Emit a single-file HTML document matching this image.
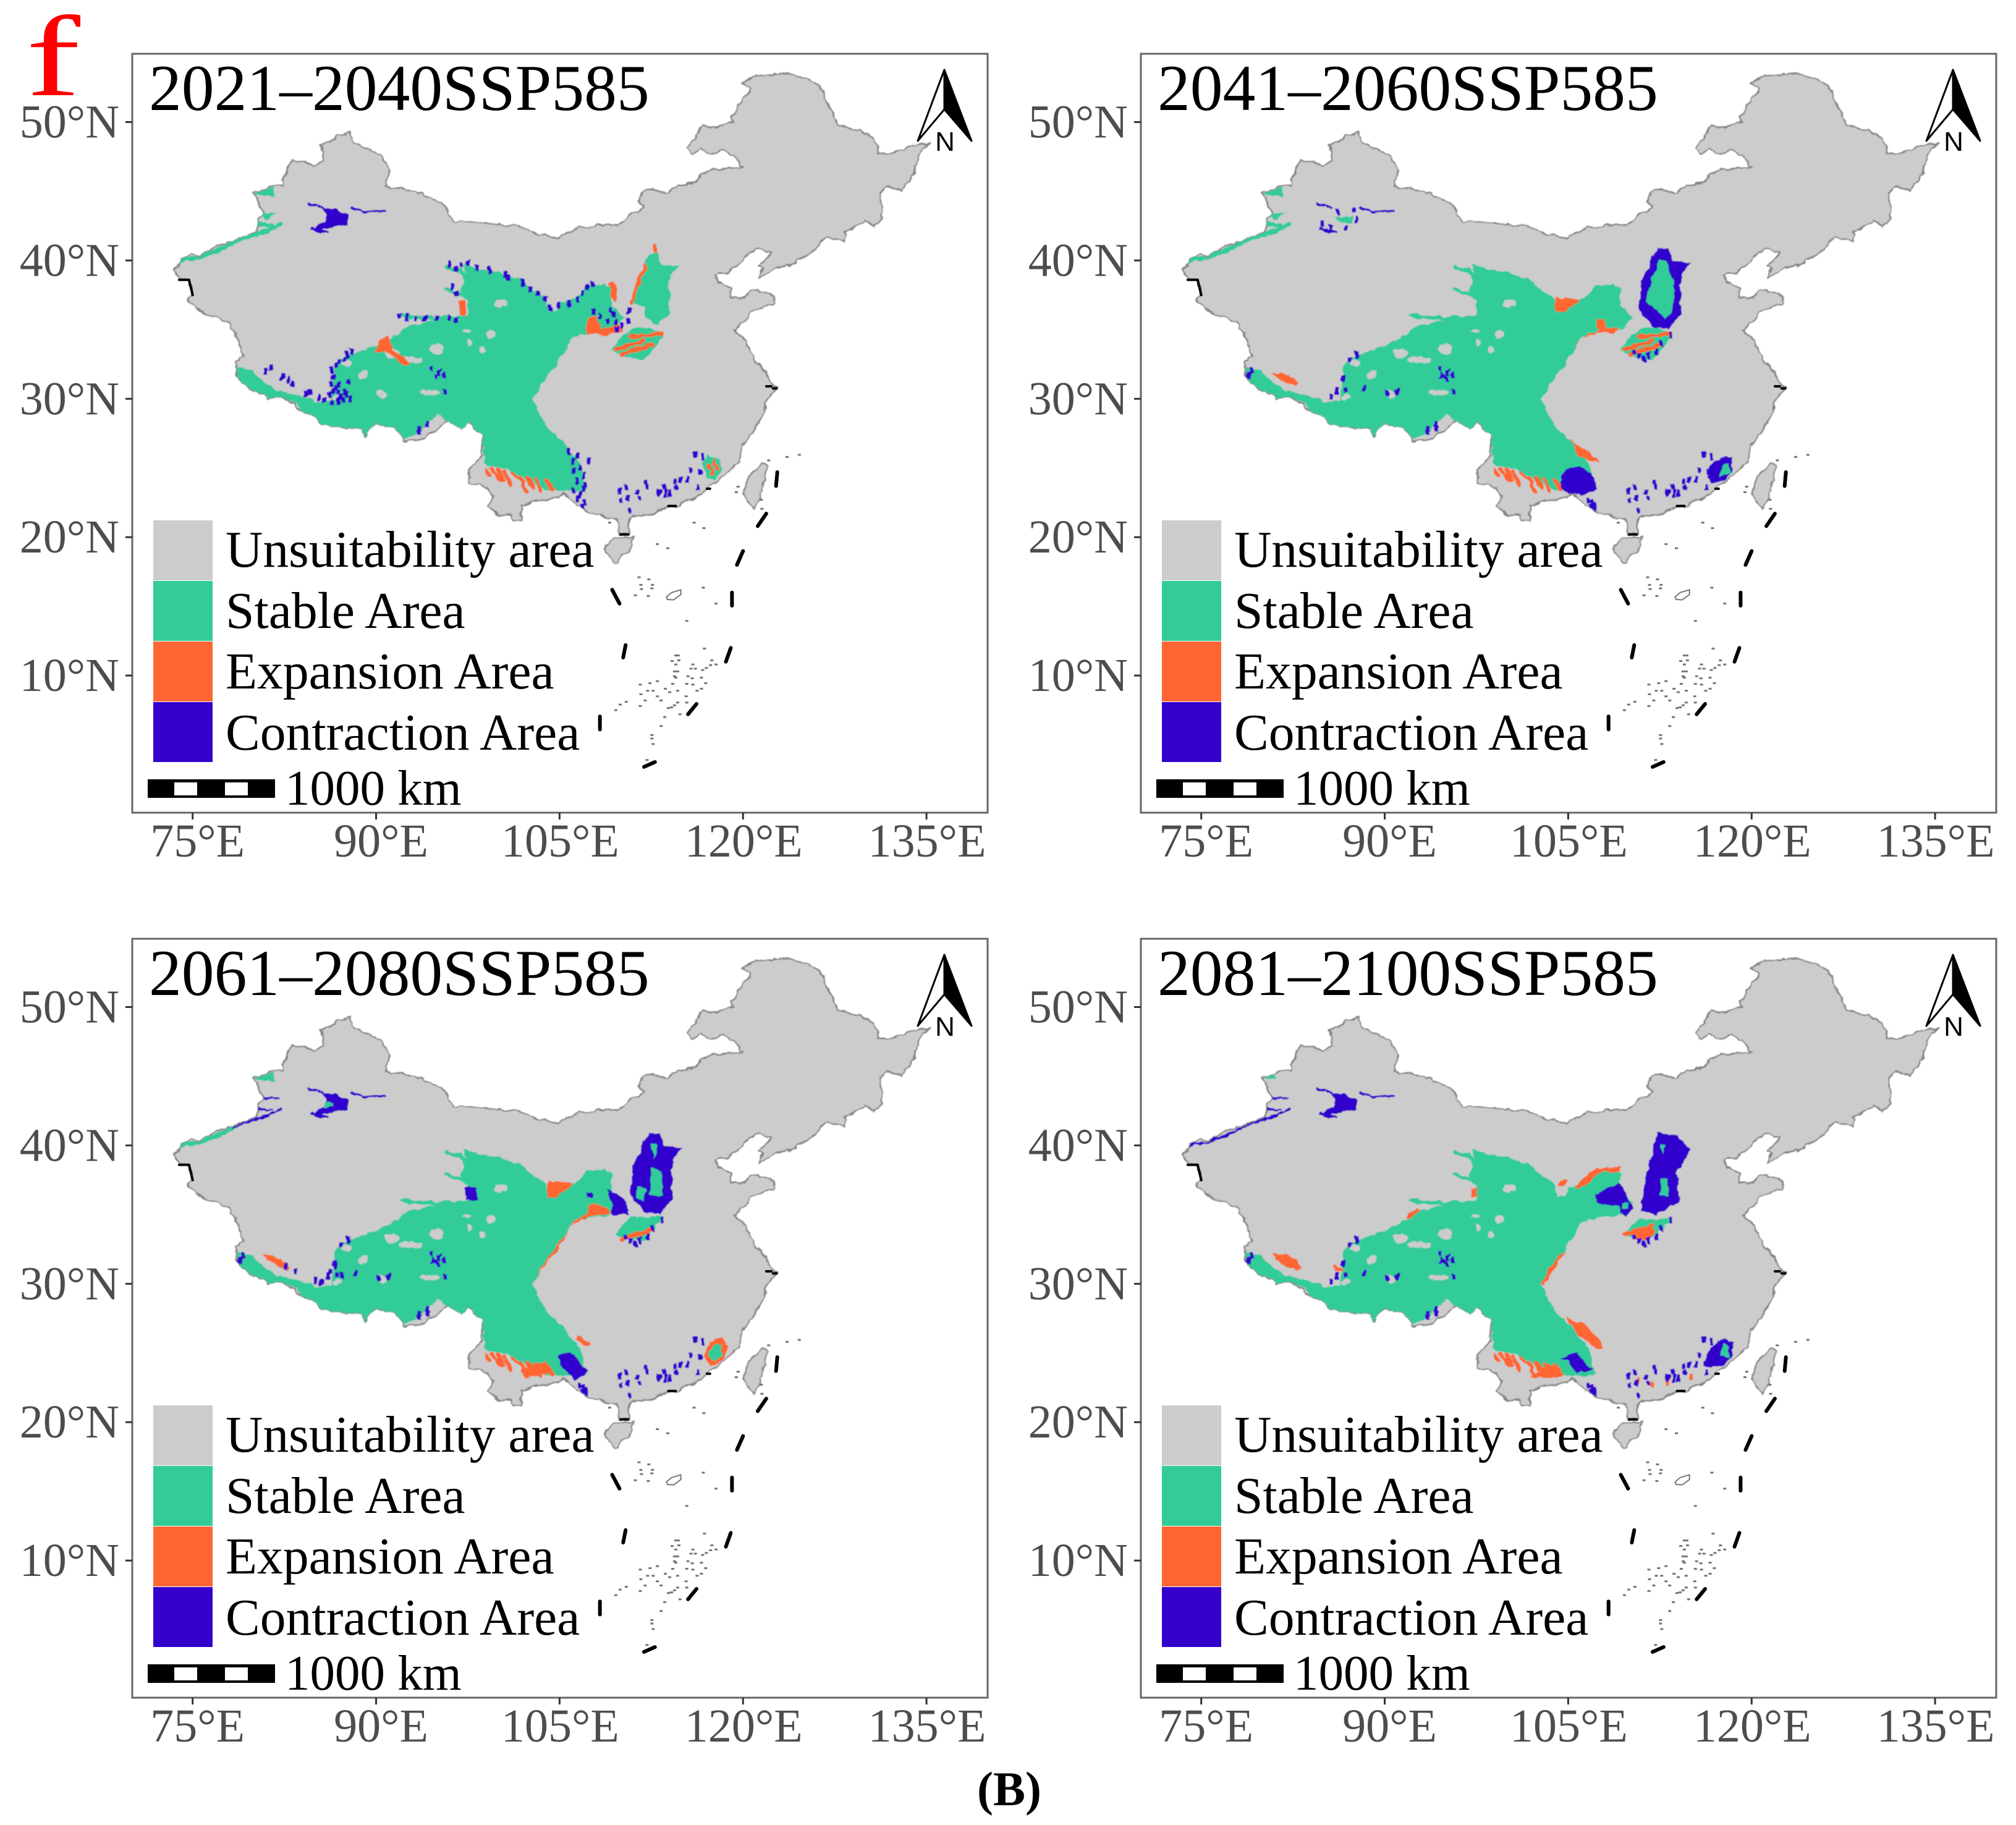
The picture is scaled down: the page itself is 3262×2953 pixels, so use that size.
<!DOCTYPE html>
<html lang="en">
<head>
<meta charset="utf-8">
<title>Suitable area change maps SSP585</title>
<style>
html,body{margin:0;padding:0;background:#fff;}
#figure{position:absolute;left:0;top:0;width:3262px;height:2953px;display:block;background:#fff;}
text{font-family:"Liberation Serif",serif;}
</style>
</head>
<body>
<svg id="figure" xmlns="http://www.w3.org/2000/svg" width="3262" height="2953" viewBox="0 0 3262 2953">
  <defs id="defs">
    <filter id="rough" filterUnits="userSpaceOnUse" x="200" y="80" width="1410" height="1250">
      <feTurbulence type="fractalNoise" baseFrequency="0.07" numOctaves="3" seed="7" result="noise"/>
      <feDisplacementMap in="SourceGraphic" in2="noise" scale="9" xChannelSelector="R" yChannelSelector="G"/>
      <feGaussianBlur stdDeviation="0.9"/>
    </filter>
  </defs>
  <text transform="translate(42,154) scale(1.42,1)" font-size="186" fill="#ff0000">f</text>
  <text x="1581" y="2921" font-size="78" font-weight="bold" fill="#000">(B)</text>
</svg>
<script>
const panelTitles = ["2021–2040SSP585", "2041–2060SSP585", "2061–2080SSP585", "2081–2100SSP585"];
const lonTicks = [75, 90, 105, 120, 135];
const lonTickLabels = ["75°E", "90°E", "105°E", "120°E", "135°E"];
const latTicks = [50, 40, 30, 20, 10];
const latTickLabels = ["50°N", "40°N", "30°N", "20°N", "10°N"];
const legendLabels = ["Unsuitability area", "Stable Area", "Expansion Area", "Contraction Area"];
const legendColors = ["#cccccc", "#33cc99", "#ff6633", "#3300cc"];
const scaleLabel = "1000 km";

/* Geography, lon/lat pairs */
const chinaOutline = [73.5,39.3,73.9,39.9,74.9,40.5,75.7,40.3,76.8,41.0,78.1,41.4,80.2,42.0,80.4,42.9,80.9,43.4,80.4,43.9,80.4,44.5,79.9,44.9,81.7,45.4,82.4,45.4,82.3,45.8,83.1,47.2,83.7,47.1,85,46.9,85.7,47.2,85.5,48.4,86.6,48.7,86.8,49.1,87.9,49.2,88.1,48.5,89.5,48.0,90.5,47.5,91.1,46.6,90.8,45.3,93.3,45.0,95.3,44.2,96.4,42.8,100.5,42.6,101.8,42.4,103.3,41.9,104.9,41.6,106.6,42.4,109.8,42.6,110.8,43.3,111.9,43.8,111.4,44.4,111.9,45.1,112.6,45.1,113.7,44.8,114.7,45.4,116.0,45.6,116.7,46.3,117.5,46.6,119.9,46.7,119.7,47.2,118.5,48.0,117.4,47.7,116.5,48.0,115.9,47.7,115.5,48.1,116.7,49.8,117.8,49.6,119.2,50.0,119.1,50.4,120,51.7,120.6,52.1,120.6,52.5,120,52.7,120.8,53.3,123.3,53.6,124.3,53.4,125.8,52.9,126.5,52.3,127,51.2,127.5,50.5,127.7,49.8,128.9,49.6,130.7,48.9,131,47.8,132.5,47.8,133.4,48.2,135.2,48.5,134.7,48,134.2,47.1,133.9,46.2,133.1,45.1,131.9,45.3,131.2,44.8,131.4,43,130.7,42.4,130,42.9,128.3,42,128.3,41.4,126.8,41.7,125.8,40.8,124.3,39.8,122.8,39.5,121.3,38.7,121.6,39.5,121.3,39.6,122.3,40.5,121.4,40.9,120.7,40.6,118.9,39.2,117.7,38.9,117.9,38.4,119,38,119,37.3,119.7,37.2,120.7,37.9,122.6,37.5,122.6,36.9,120.7,36.3,119.3,34.9,120.2,34.3,120.9,32.9,121.9,32.0,122.3,31.1,122.8,30.8,122.0,29.9,121.9,29.7,121.6,28.7,120.75,27.55,119.9,26.6,119.7,25.5,118.9,24.8,117.7,24,116.5,23.1,114.7,22.3,113.8,22.15,112.8,21.75,111.8,21.66,110.7,21.35,110.65,20.2,109.9,20.2,109.7,21.35,108.9,21.46,107.6,21.66,107,21.9,105.3,23.2,104,22.6,103,22.6,101.8,22.2,101.9,21.2,101.2,21.2,101.1,21.7,100.2,21.5,99.2,22.2,99.6,23,98.7,23.8,97.6,23.9,97.6,24.9,98.7,25.9,98.7,27.4,98.2,27.7,97.6,28.4,97,27.8,95.9,28.4,93.9,27.1,92.2,26.9,92.1,27.4,91.5,27.9,90,28.2,89.3,27.8,89.1,27.2,88.8,27.9,87.6,27.9,86.3,28,85.4,28.3,85.1,28.5,84.1,29.2,83.6,29.3,82.2,30.2,81.2,30,81,30.3,80,30.6,78.9,31.2,78.5,32.2,78.6,32.7,79.1,33.1,78.7,34.3,78,35.5,75.9,36.2,74.5,37.2,75,37.5,74.7,38.6,73.9,38.6];
const taiwanOutline = [121.55,25.3,122,25.1,121.65,23.7,120.9,21.9,120,23.1,120.5,24.4];
const hainanOutline = [108.6,19.1,109.3,19.9,111.05,20.05,110.8,19.25,109.6,18.15];
const nineDashSegments = [[122.8,24.7,122.7,23.7],[121.9,21.7,121.2,20.8],[120.0,19.0,119.5,18.0],[119.1,16.0,119.1,15.05],[119.0,12.0,118.6,11.0],[116.2,7.95,115.5,7.2],[112.8,3.75,111.9,3.4],[108.3,7.05,108.3,6.1],[110.4,12.2,110.2,11.3],[109.3,16.2,109.9,15.2]];
const coastBlackSegments = [[73.9,38.6,74.7,38.6,75,37.5],[121.9,30.9,122.3,30.9],[122.45,30.75,122.75,30.75],[110,20.2,110.6,20.2],[113.9,22.25,114.5,22.25],[117.05,23.5,117.3,23.5]];
const islandPoints = [114.5,11.45,114.7,11.45,114.2,11.05,114.75,11.1,114.5,10.8,114.4,10.3,114.65,10.3,114.4,9.95,114.5,9.85,115.9,10.8,115.75,10.5,116.1,10.5,116.7,10.4,117.0,10.55,117.35,10.75,117.8,10.8,117.45,11.1,116.6,9.85,115.85,9.8,115.5,9.95,114.25,9.4,115.4,9.4,115.9,9.35,116.95,9.45,116.6,9.05,116.25,8.9,114.0,8.8,113.65,9.05,114.65,8.9,115.35,8.5,113.3,8.2,113.0,8.5,112.65,8.9,112.2,8.9,111.65,8.65,113.0,9.6,112.4,9.45,111.6,9.35,112.0,8.2,111.6,7.8,110.45,8.1,109.95,7.9,109.6,7.5,114.65,8.05,114.15,7.7,113.9,7.65,114.4,7.85,115.4,8.05,114.85,7.2,113.6,7.0,113.3,6.35,112.55,5.7,112.55,5.45,112.65,5.05,112.15,3.9,116.85,11.95,111.5,17.1,112.3,16.95,111.65,16.55,112.6,16.55,111.7,16.25,112.55,16.3,111.2,15.8,112.25,15.75,116.0,21.05,116.8,20.65,113.0,19.5,113.85,19.2,116.75,16.35,117.8,15.2,115.4,13.95,109.1,21.05,123.6,25.8,124.6,25.95,122.1,25.55,119.6,23.65,119.45,23.25,121.5,22.7,121.55,22.05];
const atollRing = [113.74,15.68,114.16,16.0,114.92,16.2,114.92,15.85,114.33,15.47,113.82,15.5];

/* Stable core common to all periods */
const stableCore = [97.2,39.7,98.9,39.3,100.6,39.0,102.1,38.5,102.9,37.7,103.9,37.2,104.1,36.3,105.1,36.9,106.3,37.3,107.3,38.1,108.7,38.35,109.25,37.85,109.3,36.8,110.35,35.9,109.5,35,107.5,34.85,106,34.4,105.5,33.4,104.45,32.2,103.6,31,102.8,30,103.45,28.75,104.1,27.85,105.1,27.1,106,26.05,106.7,25.4,107.2,23.4,105.5,23.3,104.4,23.4,103.1,23.7,102.3,24.1,101.4,24.7,100.1,25,98.9,25.3,98.7,27.4,98.2,27.7,97.6,28.45,97.05,27.8,95.85,28.4,95,28.9,94.2,28.15,93.5,27.55,92.3,27.1,92.05,27.4,91.5,27.9,90,28.2,89.3,27.8,89.05,27.2,88.8,27.85,87.6,27.85,86.3,28,85.4,28.3,85.1,28.5,84.1,29.2,82.2,30.2,81.2,30,80,30.6,78.9,31.2,78.6,32.2,79,32.2,79.9,32.1,80.7,31.2,82,30.6,84.1,30.2,85.1,29.8,86.3,29.8,86.6,32.1,87.1,33,88.6,33.4,89.6,33.7,91.3,34.3,92.7,35.3,96.2,35.9,97.5,36.05,97.45,37.2,96.85,37.8,97.3,38.6];
const coreHoles = [[100.2,36.9,0.55,0.3],[95,33.6,0.55,0.4],[99.4,34.7,0.35,0.35],[97.7,34.1,0.2,0.25],[98.7,33.5,0.2,0.25],[88.95,31.7,0.35,0.3],[90.45,30.4,0.4,0.3],[94.35,30.5,0.8,0.2],[92.8,32.8,0.9,0.2],[91.3,33.3,0.6,0.4],[87.6,32.6,0.4,0.3],[97.4,34.9,0.3,0.15],[104.6,36.7,0.45,0.3],[86.8,30.1,0.4,0.15]];
const northFringeLines = [[95.7,39.5,96.9,39.2,97.7,38.3],[95.7,37.9,97.55,37.4],[92.15,36,94.5,35.8,97.2,35.9]];

const ridgeA = [112.3,40.5,113,40.6,113.3,39.7,114.85,39.6,114,38.9,114,36.2,113,35.3,112,35.9,112,36.6,110.8,37.05,111.45,38.7];
const ridgeRim = [112.2,40.9,113.2,40.9,113.6,40,115,39.8,114.2,38.9,114.2,36.2,113.2,35,111.8,35.2,110.6,36.6,111.1,38.7];
const lowerB = [109.2,33.5,109.8,34.3,111,35.15,112.3,35.15,113.6,34.6,112,32.9,110.6,32.9];
const lowerStripes = [[109.6,33.6,112,34.2],[110,33.2,112.6,33.9],[110.8,34.5,113.4,34.7]];
const guangdongPatch = [116.6,25.4,117.2,25.9,118.2,25.6,118.3,24.9,117.7,24.2,117,24.3];
const tianshanBlob = [85.7,43.8,86.7,43.7,87.7,43.2,87.7,42.5,86.6,42.5,85.6,42.2,84.8,42.2,85.9,42.9];
const yunnanRays = [[99.4,25.0,100.15,24.15],[100.45,24.7,101,23.7],[101.2,24.7,102,24],[101.75,24.3,102.3,23.25],[103.05,24.15,103.5,23.4],[103.8,24.15,104.5,23.4],[99,24.9,99.3,24.4],[100.0,24.9,100.4,24.1],[102.4,24.3,102.8,23.5]];
const iliNorthPatch = [79.9,44.9,81.7,45.3,81.7,44.5,80.7,44.7];
const iliMidPatch = [80.6,43.4,82,43.4,81,42.9];
const iliLowStreak = [80.2,42.6,81.4,42.6];
const kashgarStreak = [73.9,40,75.4,40.2,76.9,40.7,78.3,41.3,79.9,41.8,82.2,42.6];
const tianshanEastStreak = [88,43.8,89,43.55,90.7,43.55];
const tianshanWestStreak = [84.5,44.1,85.7,43.8];
const lowerTianshanStreak = [84.7,42.3,86,42];

/* Shared speck lists, lon/lat pairs */
const tibetSpecks = [86.4,32.1,86.5,31.6,86.3,31.1,86.5,30.6,86.2,30.3,86.7,30.8,86.9,30.4,87.0,31.0,87.1,30.1,87.4,30.5,87.3,29.9,87.6,30.3,86.9,29.8,86.4,29.7,87.9,30.0,87.7,31.2,87.4,32.9,87.0,32.7,87.6,33.2,88.0,33.4,86.8,32.4,85.8,29.9,85.4,30.1,84.6,30.5,84.3,30.4,83.2,31.1,82.8,31.3,82.3,31.6,81.4,32.3,81.0,32.0];
const qilianSpecks = [96.0,39.7,96.5,39.4,97.0,39.6,97.5,39.8,98.2,39.5,99.3,39.3,100.6,39.0,100.8,38.8,102.0,38.4,102.6,37.9,103.2,37.6,103.8,37.2,104.2,36.6,105,36.7,105.8,36.9,106.5,37.2,106.9,37.6,107.3,38,107.7,38.3,96.2,38.1,96.6,37.6,91.9,36.0,92.5,35.9,93.3,35.8,94,35.8,95,35.9,96,35.8,96.6,35.7];
const guizhouSpecks = [105.8,26.2,106.4,25.9,106.1,25.5,106.7,25.0,107,24.4,106.4,24.1,107.1,23.7,106.1,23.4,106.7,23.1,107.1,22.5,106.8,22.2,107.4,25.5,106.2,24.8,106.9,23.5,106.5,22.8];
const southChinaSpecks = [109.9,23.3,110.4,23.6,110.6,22.85,110.0,22.6,111.3,23.3,111.55,22.8,110.8,21.9,112.05,24,112.15,23.6,113.15,23.2,113.5,23.6,114,23.2,113.65,23.2,114.5,23.6,114.85,24.1,115.5,24.2,116.35,23.6,116.45,24.7,116.7,25.8,116.1,25.95,115.7,24.85,114.4,24.1];
const ridgeSpecks = [107.7,36.3,108.3,36.0,109.4,36.1,109.6,35.5,110.1,35.2,109.7,35,110.6,35.6,110.7,36.4,108.9,35.6,109.2,36.4];
const midSpecks = [94.5,32.2,95.2,31.9,95.6,31.7,94.9,31.6,95.6,30.5,93.6,27.85,93.5,27.6,94.2,28.1];
const sparseTibetSpecks = [85.7,30.2,86.1,30.6,86.8,30.6,87.1,32.9,87.7,33.2,86.6,31.5,88.3,30.8,90.2,30.4,91,30.5,94.3,27.8,94.6,31.7,95.1,31.4,79.1,32.0,78.9,31.7];
const lowerSpecksContraction = [110.8,33.0,111.2,32.9,111.6,33.2,112.2,33.4,112.6,34.0,113.4,34.6,110.4,33.4];
const guangdongSpecksExpansion = [117.2,25.1,117.6,25.4,117.9,25.0,117.5,24.7];
const blobTailSpecks = [106.7,22.7,107,22.5,107.2,22.3,106.8,22.2,107.1,22.1];

/* 2021–2040 */
const stable2021 = [ridgeA, lowerB, guangdongPatch, iliNorthPatch, iliMidPatch];
const expansion2021 = [[107.3,35.8,108,36.0,108.4,35.1,109.8,35.3,110.2,34.8,108.8,34.6,107.2,34.7],[109,38.4,109.5,38.4,109.8,37.4,109.5,36.9,109.2,37.4],[89.9,33.4,90.3,34.3,91.0,34.6,91.3,33.6,92.9,32.5,92.3,32.4,91,33.3],[96.8,37.1,97.4,37.2,97.3,36.0,96.8,36.1]];
const contraction2021 = [tianshanBlob];
const inner2021 = [];
const linesExpansion2021 = [lowerStripes[0], lowerStripes[1], lowerStripes[2], [110.8,37,112,39.6], [112.8,41.1,112.8,40.7]];
const linesStable2021 = [iliLowStreak, kashgarStreak];
const linesContraction2021 = [tianshanEastStreak, tianshanWestStreak, lowerTianshanStreak];
const specksContraction2021 = [tibetSpecks, qilianSpecks, guizhouSpecks, southChinaSpecks, ridgeSpecks, midSpecks];
const specksExpansion2021 = [guangdongSpecksExpansion];

/* 2041–2060 */
const stable2041 = [lowerB, iliNorthPatch, iliMidPatch];
const expansion2041 = [[105.45,33.4,105.8,34.1,106.6,34.7,107.5,35,107.3,35.75,108,35.75,108.15,35.15,109.35,35.15,108.65,34.8,107.3,34.8,105.95,34.25],[103.95,37.4,105.95,37.1,104.95,36.35,103.95,36.35],[104.95,27.2,106.1,26.5,107.65,25.45,107,25.45,105.8,25.9,105.45,26.65],[80.8,31.9,81.6,31.9,83,31.1,82.8,30.9,81.6,31.3]];
const contraction2041 = [ridgeRim,[104.8,24.9,105.95,25.2,107.3,24.15,107.3,23.4,106.1,23,104.6,23.3,104.2,24],[116.3,24.3,116.6,25.3,117.5,25.8,118.4,25.8,118.4,24.8,117.8,24.2,116.9,23.9]];
const inner2041 = [[112.5,40.1,113,39.9,113.3,38.9,113.7,38.4,113.6,36.6,113,35.8,112.2,36.4,111.4,37,111.9,38.7],[117.4,24.4,117.6,25.2,118.2,25.3,118.2,24.6],[85.9,43.1,86.6,43.2,87.3,43.2,87.4,42.7,86.3,42.7]];
const linesExpansion2041 = [lowerStripes[0], lowerStripes[1], lowerStripes[2]];
const linesStable2041 = [iliLowStreak, kashgarStreak];
const linesContraction2041 = [tianshanEastStreak, tianshanWestStreak, lowerTianshanStreak];
const specksContraction2041 = [sparseTibetSpecks, southChinaSpecks, midSpecks, lowerSpecksContraction, blobTailSpecks, [84.9,42.6,85.6,42.4,86.2,43.5,87.5,43.6,87.7,42.9,86.8,42.3]];
const specksExpansion2041 = [];

/* 2061–2080 */
const stable2061 = [[109.6,33.6,110.8,34.9,113.6,34.9,112,33.2,110.2,33.2], iliNorthPatch];
const expansion2061 = [[102.9,30.2,103.9,31.4,104.7,32.4,105.4,33.15,105.75,34.05,107.4,34.95,109.3,35.1,108.8,35.5,107.9,35.8,107.4,35.7,107.4,35.2,106.1,34.5,105.2,33.15,104.4,32.4,103.4,30.9],[104,37.5,106.1,37.2,104.9,36.3,104,36.3],[106.4,26.3,107.6,25.6,107.25,25.4,106.25,26],[101.95,23.9,103.9,24.4,104.2,23.6,102.4,23.2],[80.7,32.1,81.5,32.1,83,31.1,82.8,30.9,81.6,31.5],[116.7,24.7,117.3,25.8,118.3,26.1,118.8,25.4,118.3,24.5,117.4,24.1]];
const contraction2061 = [ridgeRim,[108.8,36.9,110.4,36.2,110.6,35,109.3,34.9,109.2,35.9],[107.2,36.6,107.7,36.6,107.6,36.2,107.2,36.2],[97.3,37,98.3,36.9,98.2,36,97.3,36.1],[104.9,24.8,105.9,25.1,106.75,24.2,107.4,23.6,106.25,23,105.2,24],tianshanBlob];
const inner2061 = [[112.5,40.2,113,40,112.7,39],[112.5,38.4,113.4,38.2,113.4,36.4,112.3,36.4],[111.4,37.0,112,36.9,111.9,36,111.3,36.1],[117.1,24.8,117.5,25.6,118.3,25.6,118.3,24.8,117.7,24.4],[85.8,43.1,86.4,43.1,86.4,42.8,85.8,42.8]];
const linesExpansion2061 = [lowerStripes[1]];
const linesStable2061 = [[73.9,40,75.4,40.2,76.9,40.7,78.3,41.3]];
const linesContraction2061 = [[78.3,41.3,79.9,41.8,82.2,42.6], iliLowStreak, [80.6,43.4,82,43.4], tianshanEastStreak, tianshanWestStreak, lowerTianshanStreak];
const specksContraction2061 = [sparseTibetSpecks, southChinaSpecks, midSpecks, lowerSpecksContraction, blobTailSpecks, [86.2,30.9,86.7,31.3,87.2,30.6,82.6,31.2,83.4,30.9,85,30.2,85.5,30.1]];
const specksExpansion2061 = [];

/* 2081–2100 */
const stable2081 = [[109.6,33.6,110.8,34.7,113.6,34.7,112,33.4,110.4,33.2], [79.9,44.9,81,45.2,81,44.8]];
const expansion2081 = [[102.75,30,103.3,30.8,104.45,32.25,104.8,32.4,103.95,31.1,103,29.9],[106.8,38.1,108,38.4,109.3,38.5,109.15,38,107.85,38.15,106.8,37.3,105.6,36.9,105.8,37.3],[104.3,37.6,104.9,37.5,104.7,37.1,104.2,37.1],[97.05,36.9,97.55,36.9,97.5,36.3,97.1,36.3],[91.65,34.65,92.65,35.55,92.85,35.25,92,34.65],[104.8,27.65,106.65,26.9,108,25.4,107.3,25.3,105.8,26.3,105.1,27.2],[101.9,23.3,103.45,24.2,104.45,23.6,104.45,23.25,102.25,23.2],[80.8,32.2,82,32.1,83.2,31.2,83,30.9,81.6,31.4],[85.7,31.5,86.8,31,85.9,30.9],[110.2,33.5,111,34.2,112.2,33.9,111.6,33.2,110.6,33.1]];
const contraction2081 = [[112.2,41,113.9,40.7,115.0,39.7,113.9,38,114.1,35.9,112.2,35,110.9,35.3,111.3,37.4,111.9,39.6],[107.15,36.4,107.65,36.6,109.15,37.3,109.7,36.6,110.35,35.4,109.7,34.8,109,35.7,108,35.7,107.3,35.85],[104.45,24.6,105.8,25.1,106.5,24.1,107.15,23.8,105.6,23.6,105.1,24.4],[116.0,24.0,116.6,25.4,117.6,26.0,118.5,25.8,118.4,24.8,117.6,24.1],tianshanBlob];
const inner2081 = [[112.6,40.1,112.9,40,112.7,39.3],[112.6,37.6,113.2,37.6,113.2,36.4,112.5,36.4],[117.3,24.9,117.7,25.7,118.2,25.5,118.1,24.6],[109.3,35.8,109.9,35.9,109.9,35.3,109.4,35.4]];
const linesExpansion2081 = [lowerStripes[0]];
const linesStable2081 = [];
const linesContraction2081 = [[80.6,43.4,82,43.4], iliLowStreak, kashgarStreak, tianshanEastStreak, tianshanWestStreak, lowerTianshanStreak];
const specksContraction2081 = [sparseTibetSpecks, southChinaSpecks, midSpecks, lowerSpecksContraction, blobTailSpecks];
const specksExpansion2081 = [[110.7,23,111.8,22.7,113.2,22.9,115.1,23.3]];

const stableByPanel = [stable2021, stable2041, stable2061, stable2081];
const expansionByPanel = [expansion2021, expansion2041, expansion2061, expansion2081];
const contractionByPanel = [contraction2021, contraction2041, contraction2061, contraction2081];
const innerByPanel = [inner2021, inner2041, inner2061, inner2081];
const expansionLinesByPanel = [linesExpansion2021, linesExpansion2041, linesExpansion2061, linesExpansion2081];
const stableLinesByPanel = [linesStable2021, linesStable2041, linesStable2061, linesStable2081];
const contractionLinesByPanel = [linesContraction2021, linesContraction2041, linesContraction2061, linesContraction2081];
const contractionSpecksByPanel = [specksContraction2021, specksContraction2041, specksContraction2061, specksContraction2081];
const expansionSpecksByPanel = [specksExpansion2021, specksExpansion2041, specksExpansion2061, specksExpansion2081];

/* Axis functions in panel-local pixels */
function xScale(lon) { return 311.7 + (lon - 75) * 19.79; }
function yScale(lat) { return 197.5 + (50 - lat) * 22.39; }

const NS = "http://www.w3.org/2000/svg";
const COLOR_LAND = legendColors[0];
const COLOR_STABLE = legendColors[1];
const COLOR_EXPANSION = legendColors[2];
const COLOR_CONTRACTION = legendColors[3];
const svg = document.getElementById("figure");

function make(tag, parent, attrs) {
  const el = document.createElementNS(NS, tag);
  for (const k in attrs) el.setAttribute(k, attrs[k]);
  parent.appendChild(el);
  return el;
}
function pointString(flat) {
  const out = [];
  for (let i = 0; i < flat.length; i += 2) out.push(xScale(flat[i]).toFixed(1) + "," + yScale(flat[i + 1]).toFixed(1));
  return out.join(" ");
}
function drawPolygon(parent, flat, fill, stroke, width, name) {
  const el = make("polygon", parent, { points: pointString(flat), fill: fill, stroke: stroke, "stroke-width": width, "stroke-linejoin": "round" });
  
  
  return el;
}
function drawLine(parent, flat, color, width, name) {
  const el = make("polyline", parent, { points: pointString(flat), fill: "none", stroke: color, "stroke-width": width, "stroke-linecap": "round", "stroke-linejoin": "round" });
  
  
  return el;
}
function drawSpecks(parent, flat, color, name) {
  for (let i = 0; i < flat.length; i += 2) {
    const el = make("rect", parent, { x: (xScale(flat[i]) - 3).toFixed(1), y: (yScale(flat[i + 1]) - 5).toFixed(1), width: 6, height: 10, fill: color });
    
    
  }
}
function drawText(parent, str, x, y, size, fill, anchor, name) {
  const el = make("text", parent, { x: x, y: y, "font-size": size, fill: fill, "text-anchor": anchor });
  el.textContent = str;
  
  
  return el;
}

const clip = make("clipPath", document.getElementById("defs"), { id: "china-clip" });
make("polygon", clip, { points: pointString(chinaOutline) });

const panelDx = [0, 1632, 0, 1632];
const panelDy = [0, 0, 1432, 1432];

panelTitles.forEach(function (title, p) {
  const g = make("g", svg, { transform: "translate(" + panelDx[p] + "," + panelDy[p] + ")" });
  
  

  /* land and suitability, roughened together so the coast stays aligned */
  const mapGroup = make("g", g, { filter: "url(#rough)" });
  
  
  drawPolygon(mapGroup, chinaOutline, COLOR_LAND, "#858585", 2.5, "china-mainland");
  drawPolygon(mapGroup, taiwanOutline, COLOR_LAND, "#858585", 2.5, "taiwan");
  drawPolygon(mapGroup, hainanOutline, COLOR_LAND, "#858585", 2.5, "hainan");

  const layer = make("g", mapGroup, { "clip-path": "url(#china-clip)" });
  
  
  drawPolygon(layer, stableCore, COLOR_STABLE, "none", 0, "stable-core");
  northFringeLines.forEach(function (line) { drawLine(layer, line, COLOR_STABLE, 6, "stable-fringe"); });
  coreHoles.forEach(function (h) {
    const el = make("ellipse", layer, { cx: xScale(h[0]).toFixed(1), cy: yScale(h[1]).toFixed(1), rx: (h[2] * 19.79).toFixed(1), ry: (h[3] * 22.39).toFixed(1), fill: COLOR_LAND });
    
    
  });
  stableByPanel[p].forEach(function (poly) { drawPolygon(layer, poly, COLOR_STABLE, "none", 0, "stable-patch"); });
  yunnanRays.forEach(function (ray) { drawLine(layer, ray, COLOR_EXPANSION, 6, "expansion-ray"); });
  expansionByPanel[p].forEach(function (poly) { drawPolygon(layer, poly, COLOR_EXPANSION, "none", 0, "expansion-patch"); });
  expansionLinesByPanel[p].forEach(function (line) { drawLine(layer, line, COLOR_EXPANSION, 7, "expansion-streak"); });
  contractionByPanel[p].forEach(function (poly) { drawPolygon(layer, poly, COLOR_CONTRACTION, "none", 0, "contraction-patch"); });
  innerByPanel[p].forEach(function (poly) { drawPolygon(layer, poly, COLOR_STABLE, "none", 0, "stable-remnant"); });
  stableLinesByPanel[p].forEach(function (line) { drawLine(layer, line, COLOR_STABLE, 7, "stable-streak"); });
  contractionLinesByPanel[p].forEach(function (line) { drawLine(layer, line, COLOR_CONTRACTION, 4, "contraction-streak"); });
  expansionSpecksByPanel[p].forEach(function (list) { drawSpecks(layer, list, COLOR_EXPANSION, "expansion-speck"); });
  contractionSpecksByPanel[p].forEach(function (list) { drawSpecks(layer, list, COLOR_CONTRACTION, "contraction-speck"); });

  /* coast details, islands, dashed line */
  coastBlackSegments.forEach(function (seg) { drawLine(g, seg, "#000", 4, "coast-detail"); });
  nineDashSegments.forEach(function (seg) { drawLine(g, seg, "#000", 6, "maritime-dash"); });
  for (let i = 0; i < islandPoints.length; i += 2) {
    const dot = make("rect", g, { x: (xScale(islandPoints[i]) - 2.5).toFixed(1), y: (yScale(islandPoints[i + 1]) - 1.5).toFixed(1), width: 5, height: 3, fill: "#777" });
    
    
  }
  drawPolygon(g, atollRing, "none", "#777", 2, "atoll-ring");

  /* frame */
  const frame = make("rect", g, { x: 214, y: 87, width: 1384, height: 1228, fill: "none", stroke: "#666", "stroke-width": 3 });
  
  

  /* axes */
  lonTicks.forEach(function (lon, i) {
    const tick = make("line", g, { x1: xScale(lon), x2: xScale(lon), y1: 1315, y2: 1326, stroke: "#333", "stroke-width": 3 });
    
    
    drawText(g, lonTickLabels[i], xScale(lon) + (i < 2 ? 8 : 1), 1386, 76, "#4d4d4d", "middle", "x-tick-label");
  });
  latTicks.forEach(function (lat, i) {
    const tick = make("line", g, { x1: 203, x2: 214, y1: yScale(lat), y2: yScale(lat), stroke: "#333", "stroke-width": 3 });
    
    
    drawText(g, latTickLabels[i], 193, yScale(lat) + 25, 76, "#4d4d4d", "end", "y-tick-label");
  });

  /* title */
  drawText(g, title, 241, 178, 105.6, "#000", "start", "panel-title");

  /* legend */
  const legendBaselines = [917, 1016, 1114, 1213];
  const swatchTops = [842, 940, 1038, 1136];
  legendLabels.forEach(function (label, i) {
    const sw = make("rect", g, { x: 248, y: swatchTops[i], width: 96, height: 97, fill: legendColors[i] });
    
    
    drawText(g, label, 365, legendBaselines[i], 83.6, "#000", "start", "legend-label");
  });

  /* scale bar */
  const bar = make("rect", g, { x: 239, y: 1261, width: 206, height: 30, fill: "#000" });
  
  
  [282, 364].forEach(function (sx) {
    const seg = make("rect", g, { x: sx, y: 1266, width: 37, height: 21, fill: "#fff" });
    
    
  });
  drawText(g, scaleLabel, 461, 1302, 81, "#000", "start", "scale-bar-label");

  /* north arrow */
  const arrowLeft = make("polygon", g, { points: "1528,113 1485,228 1528,177", fill: "#fff", stroke: "#000", "stroke-width": 3, "stroke-linejoin": "round" });
  
  
  const arrowRight = make("polygon", g, { points: "1528,113 1572,228 1528,177", fill: "#000", stroke: "#000", "stroke-width": 3, "stroke-linejoin": "round" });
  
  
  const north = drawText(g, "N", 1529, 244, 44, "#000", "middle", "north-arrow-letter");
  north.setAttribute("style", 'font-family:"Liberation Sans",sans-serif');
});
</script>
</body>
</html>
